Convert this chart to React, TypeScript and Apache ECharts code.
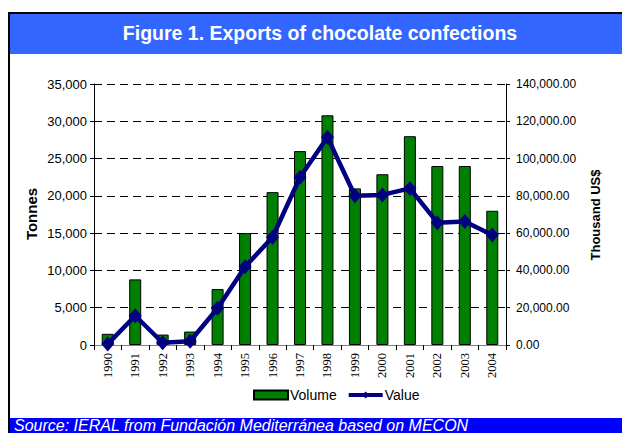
import React, { useEffect, useRef } from "react";
import * as echarts from "echarts";

const years = ["1990", "1991", "1992", "1993", "1994", "1995", "1996", "1997", "1998", "1999", "2000", "2001", "2002", "2003", "2004"];
const volume = [1500, 8800, 1400, 1800, 7500, 15000, 20500, 26000, 30800, 21000, 22900, 28000, 24000, 24000, 18000];
const value = [500, 15700, 1200, 2000, 19700, 42000, 57800, 90000, 111400, 80100, 80500, 84000, 65600, 66200, 59000];
const seriesNames = ["Volume", "Value"];
const titleText = "Figure 1. Exports of chocolate confections";
const sourceText = "Source: IERAL from Fundación Mediterránea based on MECON";
const leftAxisTitle = "Tonnes";
const rightAxisTitle = "Thousand US$";
const leftMax = 35000;
const leftStep = 5000;
const rightMax = 140000;
const rightStep = 20000;

export default function App() {
  const ref = useRef<HTMLDivElement>(null);
  useEffect(() => {
    if (!ref.current) return;
    const chart = echarts.init(ref.current, undefined, { renderer: "svg" });
    const font = "Arial, 'Liberation Sans', sans-serif";
    chart.setOption({
      animation: false,
      backgroundColor: "#fff",
      textStyle: { fontFamily: font },
      grid: { left: 94, right: 116, top: 84, bottom: 88, containLabel: false },
      legend: {
        left: 253,
        top: 388,
        padding: 0,
        itemWidth: 34,
        itemHeight: 9,
        itemGap: 10,
        textStyle: { fontSize: 14, color: "#000", fontFamily: font, padding: [0, 0, 0, -3] },
        data: [
          { name: seriesNames[0], icon: "rect" },
          { name: seriesNames[1], lineStyle: { width: 4, color: "#000080" } },
        ],
      },
      xAxis: [
        {
          type: "category",
          data: years,
          position: "bottom",
          axisLine: { show: true, lineStyle: { color: "#000", width: 1 } },
          axisTick: { show: true, length: 5, interval: 0, lineStyle: { color: "#000" } },
          axisLabel: {
            interval: 0,
            rotate: 90,
            margin: 8,
            fontFamily: "'Liberation Serif', 'Times New Roman', serif",
            fontSize: 12.5,
            color: "#000",
          },
          splitLine: { show: false },
        },
        {
          type: "category",
          data: years,
          position: "top",
          axisLine: { show: true, lineStyle: { color: "#808080", width: 1 } },
          axisTick: { show: false },
          axisLabel: { show: false },
          splitLine: { show: false },
        },
      ],
      yAxis: [
        {
          type: "value",
          min: 0,
          max: leftMax,
          interval: leftStep,
          position: "left",
          axisLine: { show: true, lineStyle: { color: "#000", width: 1 } },
          axisTick: { show: true, length: 4, lineStyle: { color: "#000" } },
          axisLabel: {
            fontSize: 13,
            color: "#000",
            margin: 7,
            fontFamily: font,
            formatter: (v: number) => v.toLocaleString("en-US"),
          },
          splitLine: { show: true, lineStyle: { color: "#000", type: [8, 5], width: 1 } },
        },
        {
          type: "value",
          min: 0,
          max: rightMax,
          interval: rightStep,
          position: "right",
          axisLine: { show: true, lineStyle: { color: "#000", width: 1 } },
          axisTick: { show: true, length: 4, lineStyle: { color: "#000" } },
          axisLabel: {
            fontSize: 12,
            color: "#000",
            margin: 10,
            fontFamily: font,
            formatter: (v: number) =>
              v.toLocaleString("en-US", { minimumFractionDigits: 2, maximumFractionDigits: 2 }),
          },
          splitLine: { show: false },
        },
      ],
      series: [
        {
          name: seriesNames[0],
          type: "bar",
          data: volume,
          yAxisIndex: 0,
          barWidth: 12,
          itemStyle: { color: "#008000", borderColor: "#000", borderWidth: 1 },
        },
        {
          name: seriesNames[1],
          type: "line",
          data: value,
          yAxisIndex: 1,
          symbol: "diamond",
          symbolSize: [13, 15],
          lineStyle: { color: "#000080", width: 4.5 },
          itemStyle: { color: "#000080" },
          z: 5,
        },
      ],
      graphic: [
        { type: "rect", shape: { x: 10, y: 14, width: 612, height: 40 }, style: { fill: "#3366FF" }, silent: true },
        { type: "rect", shape: { x: 8, y: 12, width: 614, height: 2 }, style: { fill: "#000" }, silent: true },
        { type: "rect", shape: { x: 8, y: 12, width: 2, height: 421 }, style: { fill: "#000" }, silent: true },
        { type: "rect", shape: { x: 10, y: 418, width: 612, height: 15 }, style: { fill: "#0000FF" }, silent: true },
        {
          type: "text",
          x: 320,
          y: 33,
          style: {
            text: titleText,
            fill: "#fff",
            font: `bold 19.5px ${font}`,
            align: "center",
            verticalAlign: "middle",
          },
        },
        {
          type: "text",
          x: 14,
          y: 425,
          style: {
            text: sourceText,
            fill: "#fff",
            font: `italic 16px ${font}`,
            align: "left",
            verticalAlign: "middle",
          },
        },
        {
          type: "text",
          x: 31,
          y: 214,
          rotation: Math.PI / 2,
          style: {
            text: leftAxisTitle,
            fill: "#000",
            font: `bold 15px ${font}`,
            align: "center",
            verticalAlign: "middle",
          },
        },
        {
          type: "text",
          x: 595,
          y: 215,
          rotation: Math.PI / 2,
          style: {
            text: rightAxisTitle,
            fill: "#000",
            font: `bold 13px ${font}`,
            align: "center",
            verticalAlign: "middle",
          },
        },
      ],
    });
    return () => chart.dispose();
  }, []);
  return (
    <div
      ref={ref}
      style={{ position: "absolute", left: 0, top: 0, width: 622, height: 433, background: "#fff" }}
    />
  );
}
